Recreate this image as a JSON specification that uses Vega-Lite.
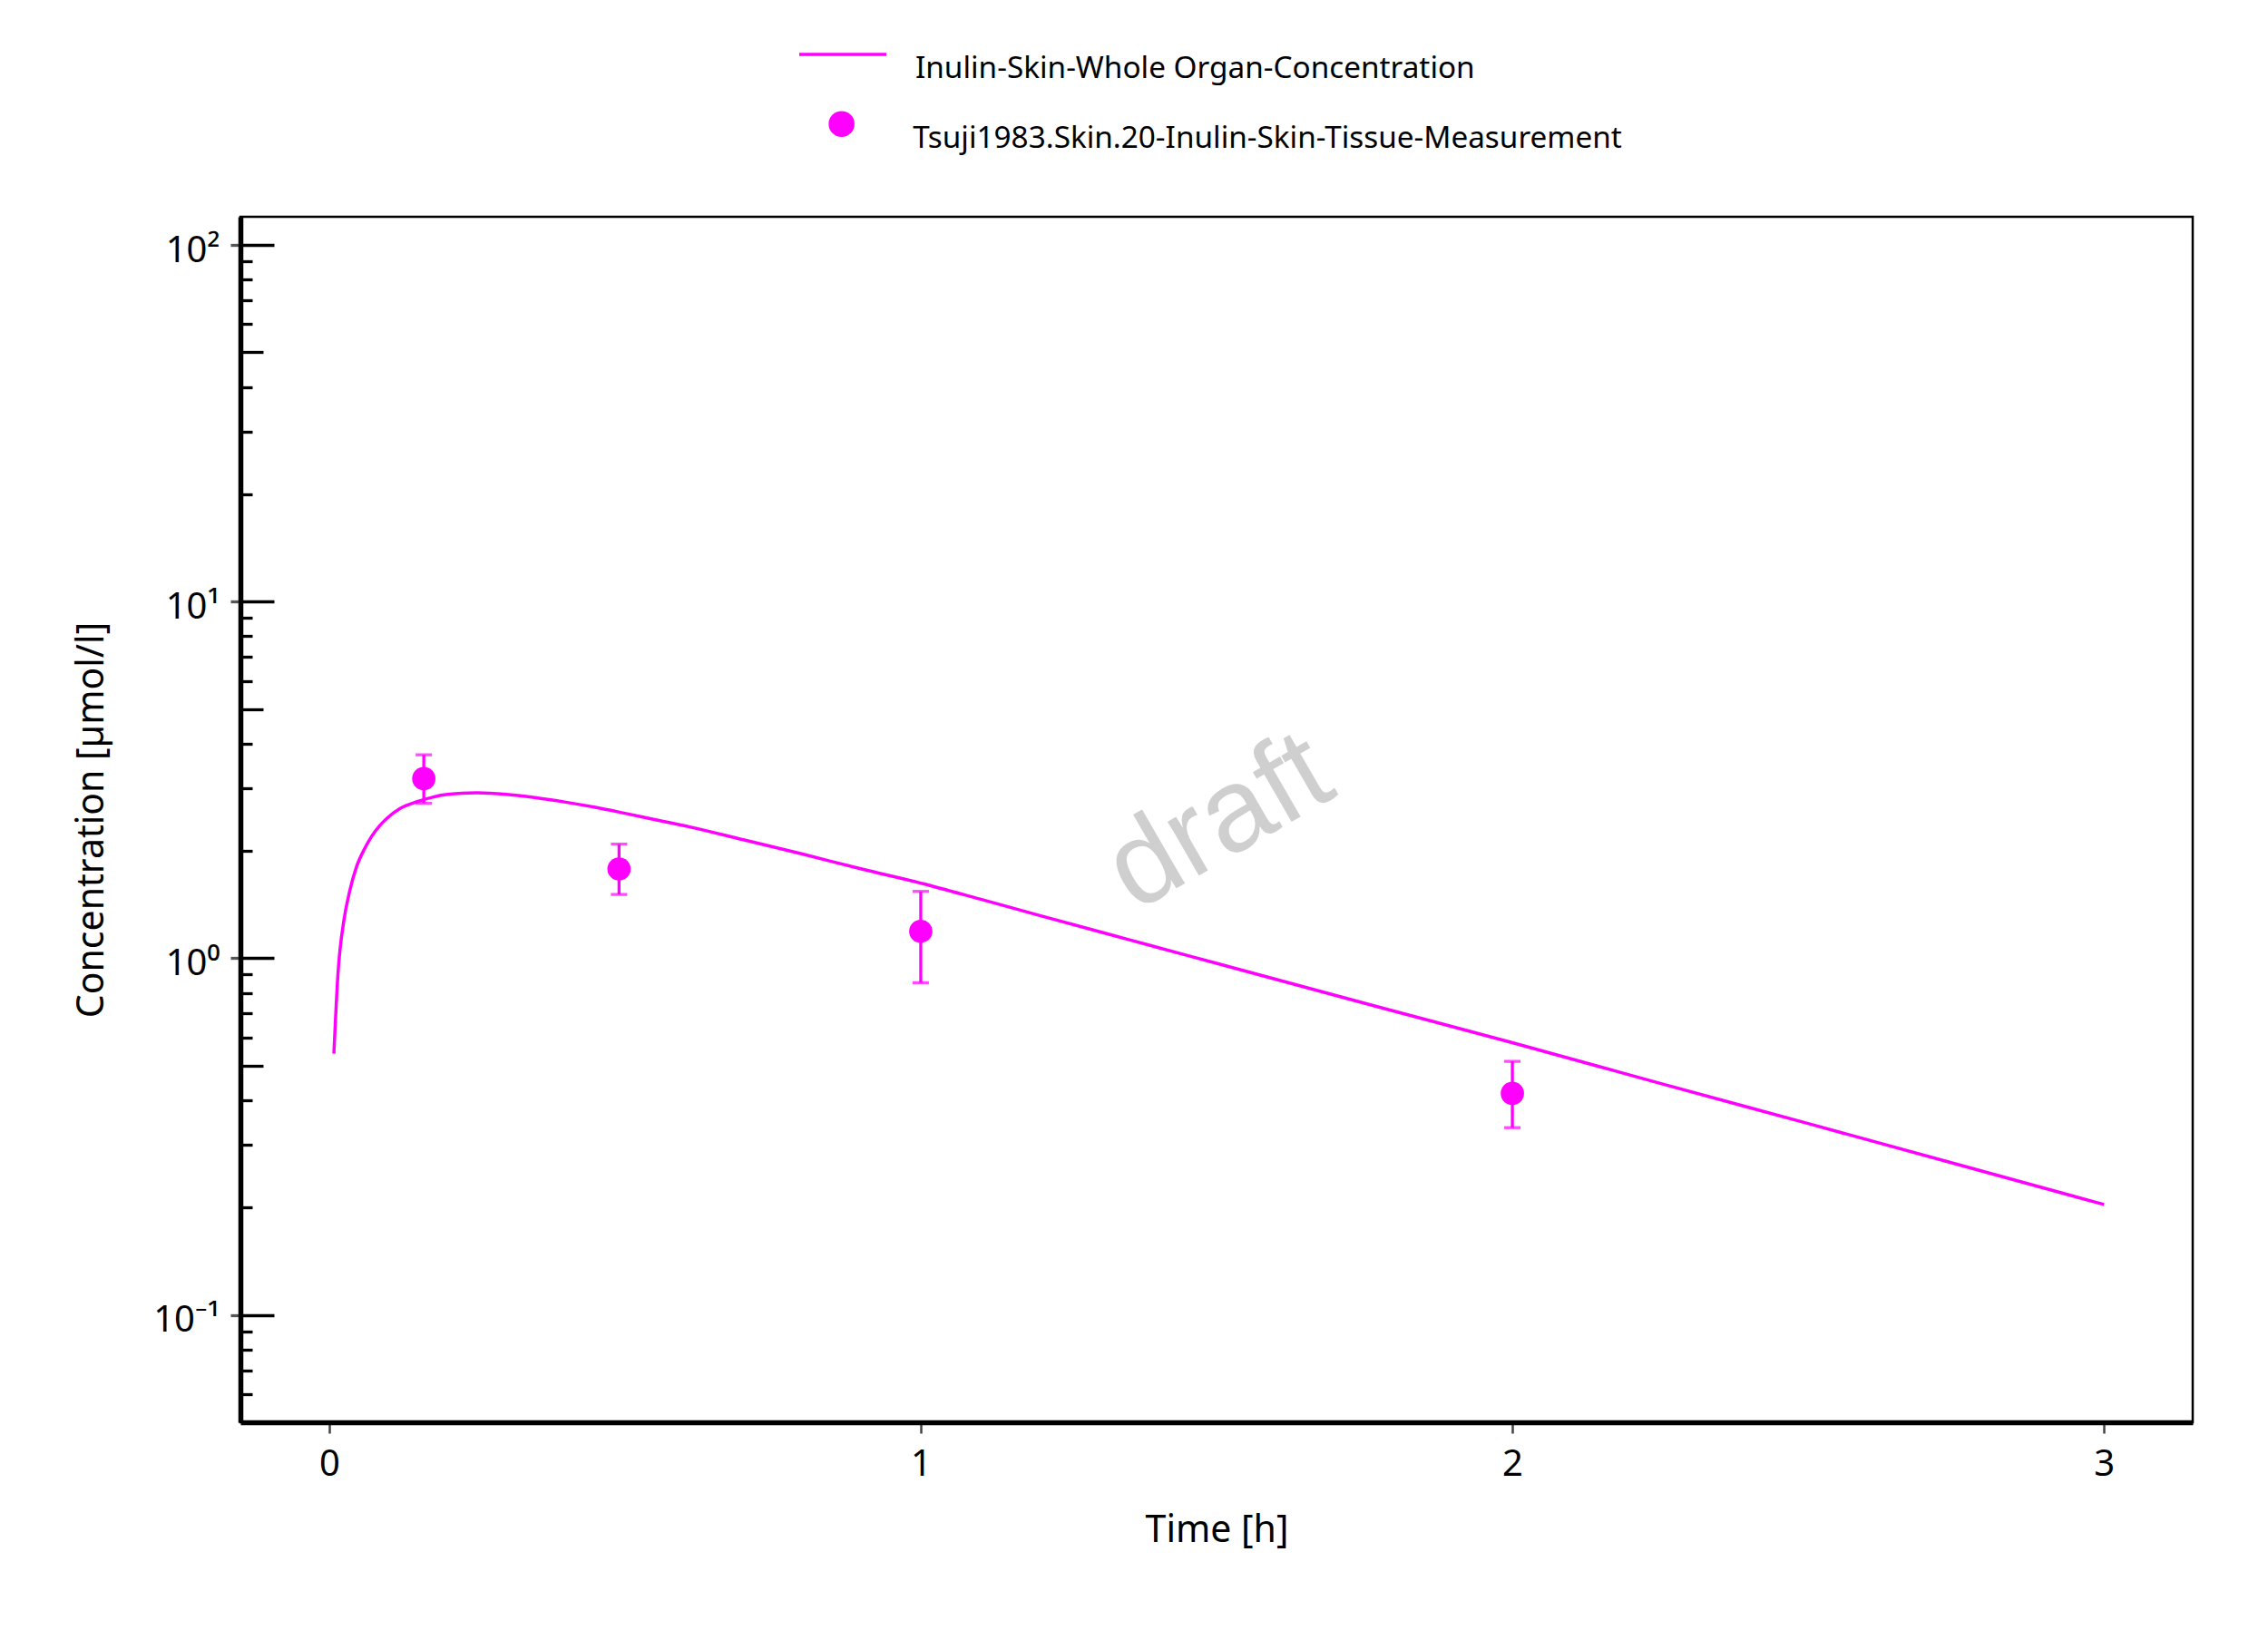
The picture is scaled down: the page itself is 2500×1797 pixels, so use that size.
{
  "$schema": "https://vega.github.io/schema/vega-lite/v6.json",
  "width": 2152,
  "height": 1329,
  "autosize": {"type": "none"},
  "padding": {"left": 265, "top": 239, "right": 83, "bottom": 229},
  "background": "white",
  "config": {
    "font": "Noto Sans",
    "view": {"stroke": "black", "strokeWidth": 2.5},
    "axis": {"grid": false, "labelFont": "Noto Sans", "titleFont": "Noto Sans", "labelColor": "black", "titleColor": "black", "titleFontWeight": "normal"},
    "legend": {"padding": 0, "labelFont": "Noto Sans", "labelColor": "black", "labelLimit": 0}
  },
  "datasets": {
    "sim": [
      {"t": 0.008, "c": 0.54, "series": "Inulin-Skin-Whole Organ-Concentration"},
      {"t": 0.015, "c": 0.91, "series": "Inulin-Skin-Whole Organ-Concentration"},
      {"t": 0.025, "c": 1.28, "series": "Inulin-Skin-Whole Organ-Concentration"},
      {"t": 0.035, "c": 1.55, "series": "Inulin-Skin-Whole Organ-Concentration"},
      {"t": 0.046, "c": 1.8, "series": "Inulin-Skin-Whole Organ-Concentration"},
      {"t": 0.06, "c": 2.03, "series": "Inulin-Skin-Whole Organ-Concentration"},
      {"t": 0.072, "c": 2.2, "series": "Inulin-Skin-Whole Organ-Concentration"},
      {"t": 0.085, "c": 2.35, "series": "Inulin-Skin-Whole Organ-Concentration"},
      {"t": 0.098, "c": 2.47, "series": "Inulin-Skin-Whole Organ-Concentration"},
      {"t": 0.12, "c": 2.63, "series": "Inulin-Skin-Whole Organ-Concentration"},
      {"t": 0.149, "c": 2.75, "series": "Inulin-Skin-Whole Organ-Concentration"},
      {"t": 0.175, "c": 2.83, "series": "Inulin-Skin-Whole Organ-Concentration"},
      {"t": 0.2, "c": 2.88, "series": "Inulin-Skin-Whole Organ-Concentration"},
      {"t": 0.25, "c": 2.91, "series": "Inulin-Skin-Whole Organ-Concentration"},
      {"t": 0.3, "c": 2.88, "series": "Inulin-Skin-Whole Organ-Concentration"},
      {"t": 0.35, "c": 2.82, "series": "Inulin-Skin-Whole Organ-Concentration"},
      {"t": 0.4, "c": 2.74, "series": "Inulin-Skin-Whole Organ-Concentration"},
      {"t": 0.45, "c": 2.65, "series": "Inulin-Skin-Whole Organ-Concentration"},
      {"t": 0.5, "c": 2.55, "series": "Inulin-Skin-Whole Organ-Concentration"},
      {"t": 0.55, "c": 2.45, "series": "Inulin-Skin-Whole Organ-Concentration"},
      {"t": 0.6, "c": 2.355, "series": "Inulin-Skin-Whole Organ-Concentration"},
      {"t": 0.7, "c": 2.15, "series": "Inulin-Skin-Whole Organ-Concentration"},
      {"t": 0.8, "c": 1.96, "series": "Inulin-Skin-Whole Organ-Concentration"},
      {"t": 0.9, "c": 1.78, "series": "Inulin-Skin-Whole Organ-Concentration"},
      {"t": 1.0, "c": 1.625, "series": "Inulin-Skin-Whole Organ-Concentration"},
      {"t": 1.1, "c": 1.466, "series": "Inulin-Skin-Whole Organ-Concentration"},
      {"t": 1.2, "c": 1.32, "series": "Inulin-Skin-Whole Organ-Concentration"},
      {"t": 1.35, "c": 1.13, "series": "Inulin-Skin-Whole Organ-Concentration"},
      {"t": 1.5, "c": 0.968, "series": "Inulin-Skin-Whole Organ-Concentration"},
      {"t": 1.75, "c": 0.748, "series": "Inulin-Skin-Whole Organ-Concentration"},
      {"t": 2.0, "c": 0.58, "series": "Inulin-Skin-Whole Organ-Concentration"},
      {"t": 2.25, "c": 0.446, "series": "Inulin-Skin-Whole Organ-Concentration"},
      {"t": 2.5, "c": 0.344, "series": "Inulin-Skin-Whole Organ-Concentration"},
      {"t": 2.75, "c": 0.265, "series": "Inulin-Skin-Whole Organ-Concentration"},
      {"t": 3.0, "c": 0.204, "series": "Inulin-Skin-Whole Organ-Concentration"}
    ],
    "obs": [
      {"t": 0.16, "c": 3.19, "lo": 2.72, "hi": 3.72, "series": "Tsuji1983.Skin.20-Inulin-Skin-Tissue-Measurement"},
      {"t": 0.49, "c": 1.78, "lo": 1.51, "hi": 2.09, "series": "Tsuji1983.Skin.20-Inulin-Skin-Tissue-Measurement"},
      {"t": 1.0, "c": 1.19, "lo": 0.854, "hi": 1.54, "series": "Tsuji1983.Skin.20-Inulin-Skin-Tissue-Measurement"},
      {"t": 2.0, "c": 0.418, "lo": 0.335, "hi": 0.514, "series": "Tsuji1983.Skin.20-Inulin-Skin-Tissue-Measurement"}
    ],
    "wm": [{"t": 1.505, "c": 2.4, "label": "draft"}]
  },
  "layer": [
    {
      "data": {"name": "wm"},
      "mark": {"type": "text", "font": "Liberation Sans", "fontSize": 130, "angle": -30, "color": "#cfcfcf", "align": "center", "baseline": "middle"},
      "encoding": {
        "x": {"field": "t", "type": "quantitative", "scale": {"domain": [-0.15, 3.15], "nice": false, "zero": false}},
        "y": {"field": "c", "type": "quantitative", "scale": {"type": "log", "domain": [0.05, 120], "nice": false}, "axis": null},
        "text": {"field": "label"}
      }
    },
    {
      "data": {"name": "sim"},
      "mark": {"type": "line", "strokeWidth": 3.5, "interpolate": "monotone"},
      "encoding": {
        "x": {"field": "t", "type": "quantitative", "title": "Time [h]",
          "axis": {"values": [0, 1, 2, 3], "format": "d", "tickSize": 12, "tickColor": "#444444", "tickWidth": 2.5, "domainColor": "black", "domainWidth": 5.5, "labelFontSize": 40, "labelPadding": 14, "titleFontSize": 41, "titlePadding": 33}},
        "y": {"field": "c", "type": "quantitative", "title": "Concentration [µmol/l]",
          "axis": {"orient": "left", "values": [0.1, 1, 10, 100], "labelExpr": "datum.value == 100 ? '10²' : datum.value == 10 ? '10¹' : datum.value == 1 ? '10⁰' : '10⁻¹'", "tickSize": 11, "tickColor": "#555555", "tickWidth": 3.3, "domainColor": "black", "domainWidth": 5.5, "labelFontSize": 40, "labelPadding": 12, "labelOffset": 6, "titleFontSize": 41, "titlePadding": 46}},
        "color": {"field": "series", "type": "nominal", "scale": {"range": ["#ff00ff"]},
          "legend": {"orient": "none", "legendX": 614, "legendY": -229, "title": null, "symbolType": "stroke", "symbolSize": 9216, "symbolStrokeWidth": 3.5, "symbolStrokeColor": "#ff00ff", "labelFontSize": 33.3, "labelOffset": 30, "labelBaseline": "top"}}
      }
    },
    {
      "data": {"name": "obs"},
      "mark": {"type": "rule", "color": "#ff00ff", "strokeWidth": 3.3},
      "encoding": {
        "x": {"field": "t", "type": "quantitative"},
        "y": {"field": "lo", "type": "quantitative", "axis": null},
        "y2": {"field": "hi"}
      }
    },
    {
      "data": {"name": "obs"},
      "mark": {"type": "tick", "color": "#ff00ff", "orient": "horizontal", "size": 18, "thickness": 3.3},
      "encoding": {
        "x": {"field": "t", "type": "quantitative"},
        "y": {"field": "lo", "type": "quantitative", "axis": null}
      }
    },
    {
      "data": {"name": "obs"},
      "mark": {"type": "tick", "color": "#ff00ff", "orient": "horizontal", "size": 18, "thickness": 3.3},
      "encoding": {
        "x": {"field": "t", "type": "quantitative"},
        "y": {"field": "hi", "type": "quantitative", "axis": null}
      }
    },
    {
      "data": {"name": "obs"},
      "mark": {"type": "point", "filled": true, "opacity": 1, "size": 660, "shape": "circle"},
      "encoding": {
        "x": {"field": "t", "type": "quantitative"},
        "y": {"field": "c", "type": "quantitative",
          "axis": {"orient": "left", "values": [0.06, 0.07, 0.08, 0.09, 0.1, 0.2, 0.3, 0.4, 0.5, 0.6, 0.7, 0.8, 0.9, 1, 2, 3, 4, 5, 6, 7, 8, 9, 10, 20, 30, 40, 50, 60, 70, 80, 90, 100], "labels": false, "domain": false, "title": null, "tickColor": "black", "tickWidth": 3.3,
            "tickSize": {"condition": [{"test": "indexof([0.1, 1, 10, 100], datum.value) >= 0", "value": -37}, {"test": "indexof([0.5, 5, 50], datum.value) >= 0", "value": -25}], "value": -13}}},
        "color": {"field": "series", "type": "nominal", "scale": {"range": ["#ff00ff"]},
          "legend": {"orient": "none", "legendX": 646, "legendY": -119, "title": null, "symbolType": "circle", "symbolSize": 812, "symbolStrokeWidth": 0, "symbolOpacity": 1, "labelFontSize": 33.3, "labelOffset": 62, "labelBaseline": "top"}}
      }
    }
  ],
  "resolve": {"scale": {"color": "independent"}, "axis": {"y": "independent"}}
}
